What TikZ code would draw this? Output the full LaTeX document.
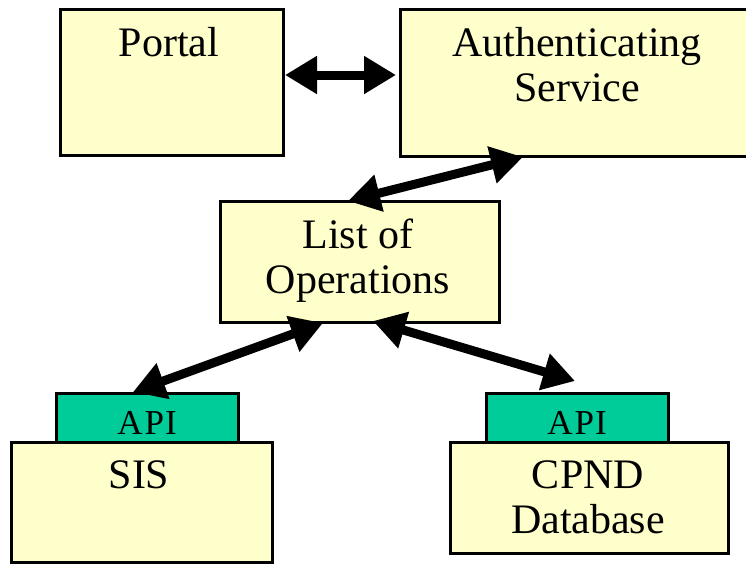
\documentclass[tikz,border=0pt]{standalone}
\usepackage{fontspec}
\setmainfont{Liberation Serif}
\usetikzlibrary{arrows.meta}
\definecolor{boxfill}{HTML}{FFFFCC}
\definecolor{apifill}{HTML}{00CC99}
\begin{document}
\begin{tikzpicture}[x=1pt,y=-1pt,
  box/.style={draw=black,line width=3pt,fill=boxfill,inner sep=0pt},
  apibox/.style={draw=black,line width=3pt,fill=apifill,inner sep=0pt},
  lbl/.style={inner sep=0pt,anchor=base,font=\fontsize{42}{45}\selectfont},
  apilbl/.style={inner sep=0pt,anchor=base,font=\fontsize{35}{38}\selectfont},
  dbl/.style={line width=9pt,{Triangle[length=32pt,width=36pt]}-{Triangle[length=32pt,width=36pt]},shorten <=0pt,shorten >=0pt}]
\useasboundingbox (0,0) rectangle (746,565);
\clip (0,0) rectangle (746,565);
% boxes
\node[box,minimum width=223pt,minimum height=146pt] (portal) at (171.5,82) {};
\node[box,minimum width=356pt,minimum height=147pt] (auth) at (578,82.5) {};
\node[box,minimum width=279pt,minimum height=121pt] (list) at (359.5,261.5) {};
\node[apibox,minimum width=182pt,minimum height=49pt] (api1) at (147,417.5) {};
\node[apibox,minimum width=182pt,minimum height=49pt] (api2) at (577,417.5) {};
\node[box,minimum width=261pt,minimum height=120pt] (sis) at (141.5,502) {};
\node[box,minimum width=278pt,minimum height=111pt] (cpnd) at (589,497.5) {};
% texts
\node[lbl] (tportal) at (169,56) {Portal};
\node[lbl] (tauth1) at (577,56) {Authenticating};
\node[lbl] (tauth2) at (577,101) {Service};
\node[lbl] (tlist1) at (358,248) {List of};
\node[lbl] (tlist2) at (358,293) {Operations};
\node[apilbl,text width=70pt,align=center] (tapi1) at (147,434) {A\kern2pt P\kern1pt I};
\node[apilbl,text width=70pt,align=center] (tapi2) at (577,434) {A\kern2pt P\kern1pt I};
\node[lbl] (tsis) at (139,488) {SIS};
\node[lbl] (tcpnd1) at (588,488) {CPND};
\node[lbl] (tcpnd2) at (588,533) {Database};
% arrow end points
\coordinate (a1) at (285,75);
\coordinate (a2) at (396,75);
\coordinate (b1) at (523,157);
\coordinate (b2) at (348,201);
\coordinate (c1) at (323,323);
\coordinate (c2) at (133,392);
\coordinate (d1) at (373,321);
\coordinate (d2) at (575,381);
\draw[dbl] (a1) -- (a2);
\draw[dbl] (b1) -- (b2);
\draw[dbl] (c1) -- (c2);
\draw[dbl] (d1) -- (d2);
\end{tikzpicture}
\end{document}
